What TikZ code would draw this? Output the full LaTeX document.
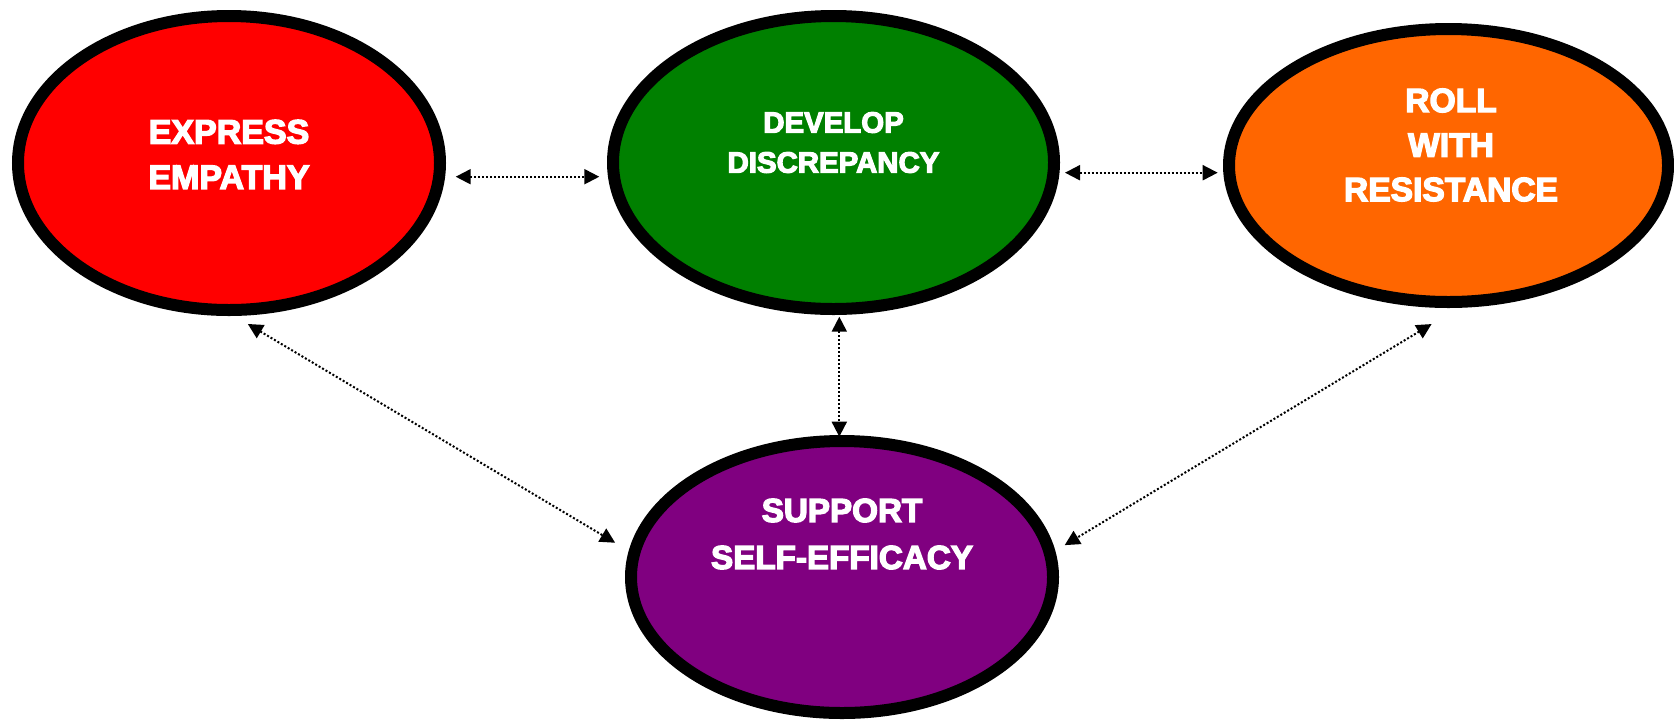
\documentclass[tikz,border=0pt]{standalone}
\usepackage{fontspec}
\newfontfamily\capsfont{Liberation Sans Bold}[FakeBold=4]
\usetikzlibrary{shapes.geometric,arrows.meta}
\definecolor{empathyRed}{RGB}{255,0,0}
\definecolor{discGreen}{RGB}{0,128,0}
\definecolor{rollOrange}{RGB}{255,102,0}
\definecolor{supportPurple}{RGB}{128,0,128}

\begin{document}
\begin{tikzpicture}[x=0.5pt,y=-0.5pt,
  oval/.style={ellipse,draw=black,line width=6pt,inner sep=0pt},
  caps/.style 2 args={text=white,align=center,inner sep=0pt,
    font=\capsfont\fontsize{#1}{#2}\selectfont},
  link/.style={densely dotted,line width=1pt,
    >={Triangle[length=7.5pt,width=7.5pt]},<->}]
  \useasboundingbox (0,0) rectangle (1674,719);

  % the four principles
  \node[oval,fill=empathyRed,minimum width=211pt,minimum height=147pt]
    (empathy) at (229,163) {};
  \node[oval,fill=discGreen,minimum width=220.5pt,minimum height=146.5pt]
    (discrepancy) at (833.5,162.5) {};
  \node[oval,fill=rollOrange,minimum width=219.5pt,minimum height=136.5pt]
    (resistance) at (1448.5,165.5) {};
  \node[oval,fill=supportPurple,minimum width=211pt,minimum height=136pt]
    (efficacy) at (842,577) {};

  \node[caps={17}{22.7}] (empathyText) at ([yshift=4.3pt]empathy.center)
    {EXPRESS\\EMPATHY};
  \node[caps={14.7}{20}] (discrepancyText) at ([yshift=10pt]discrepancy.center)
    {DEVELOP\\DISCREPANCY};
  \node[caps={16.8}{22.25}] (resistanceText)
    at ([xshift=1.25pt,yshift=10.25pt]resistance.center)
    {ROLL\\WITH\\RESISTANCE};
  \node[caps={16.6}{23.5}] (efficacyText) at ([yshift=21.5pt]efficacy.center)
    {SUPPORT\\SELF-EFFICACY};

  % links
  \draw[link,shorten <=4.85pt,shorten >=3.85pt]
    ([yshift=-6.85pt]empathy.east) -- ([yshift=-7.1pt]discrepancy.west);
  \draw[link,shorten <=2.5pt,shorten >=2.65pt]
    ([yshift=-5.1pt]discrepancy.east) -- ([yshift=-3.6pt]resistance.west);
  \draw[link,shorten <=0.85pt,shorten >=-0.85pt]
    ([xshift=2.9pt]discrepancy.south) -- ([xshift=-1.35pt]efficacy.north);
  \draw[link,shorten <=7.85pt,shorten >=7.9pt] (empathy.-88) -- (efficacy.173.2);
  \draw[link,shorten <=15.7pt,shorten >=5.5pt] (resistance.-86.3) -- (efficacy.7.7);
\end{tikzpicture}
\end{document}
